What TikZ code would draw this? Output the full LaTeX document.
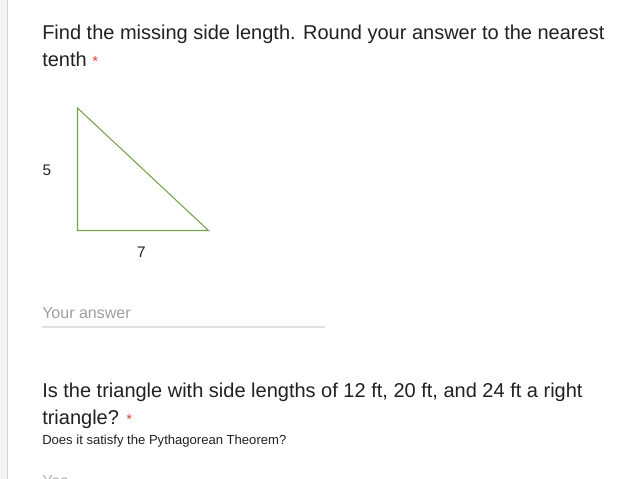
\documentclass[tikz,border=0pt]{standalone}
\usepackage{fontspec}
\setmainfont{Liberation Sans}
\definecolor{tri}{HTML}{76A34A}
\definecolor{req}{HTML}{DB4437}
\definecolor{hint}{HTML}{9E9E9E}
\definecolor{rule}{HTML}{E0E0E0}
\definecolor{strip}{HTML}{F4F4F4}
\definecolor{edge}{HTML}{D4D4D4}
\definecolor{ink}{HTML}{212121}
\begin{document}
\begin{tikzpicture}[x=0.75pt,y=-0.75pt,
  qtext/.style={anchor=base west,inner sep=0pt,text=ink,font=\fontsize{15}{18}\selectfont},
  small/.style={anchor=base west,inner sep=0pt,text=ink,font=\fontsize{9.8}{11}\selectfont},
  lab/.style={anchor=base,inner sep=0pt,text=ink,font=\fontsize{11.5}{13}\selectfont},
  hinttext/.style={anchor=base west,inner sep=0pt,text=hint,font=\fontsize{12}{14}\selectfont}]
\useasboundingbox (0,0) rectangle (644,479);
\clip (0,0) rectangle (644,479);
\fill[white] (0,0) rectangle (644,479);
\fill[strip] (0,0) rectangle (7,479);
\draw[edge,line width=1.2pt] (7.5,0) -- (7.5,479);
% question 1
\node[qtext] (q1a) at (42,39) {Find the missing side length. Round your answer to the nearest};
\node[qtext] (q1b) at (42,66) {tenth {\color{req}\fontsize{11}{12}\selectfont *}};
% triangle
\coordinate (A) at (77.5,108);
\coordinate (B) at (77.5,230.5);
\coordinate (C) at (208.5,230.5);
\draw[tri,line width=0.8pt,line join=miter] (A) -- (B) -- (C) -- cycle;
\node[lab] (five) at (47,175.5) {5};
\node[lab] (seven) at (141.5,257.5) {7};
% answer field
\node[hinttext] (ans) at (42,318.5) {Your answer};
\coordinate (u1) at (42,327);
\coordinate (u2) at (325,327);
\draw[rule,line width=0.8pt] (u1) -- (u2);
% question 2
\node[qtext] (q2a) at (42,397) {Is the triangle with side lengths of 12 ft, 20 ft, and 24 ft a right};
\node[qtext] (q2b) at (42,424) {triangle? {\color{req}\fontsize{11}{12}\selectfont *}};
\node[small] (sub) at (42,444.5) {Does it satisfy the Pythagorean Theorem?};
\node[hinttext,text=hint!80] (y) at (42,486) {Yes};
\end{tikzpicture}
\end{document}
